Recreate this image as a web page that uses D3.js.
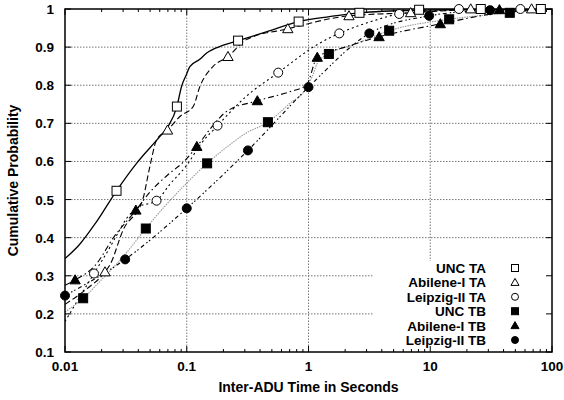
<!DOCTYPE html>
<html>
<head>
<meta charset="utf-8">
<script src="https://cdn.jsdelivr.net/npm/d3@7"></script>
<style>
  body { margin: 0; background: #fff; }
  text { font-family: 'Liberation Sans', Arial, sans-serif; font-weight: bold; fill: #000; }
</style>
</head>
<body>
<svg id="cdf" width="564" height="400"></svg>
<script>
// curves: [seconds, cumulative probability]
const uncTA = [[0.01, 0.345], [0.013, 0.38], [0.018, 0.44], [0.0265, 0.523], [0.0387, 0.595], [0.06, 0.665],
  [0.07, 0.691], [0.083, 0.744], [0.0905, 0.796], [0.099, 0.827], [0.106, 0.849], [0.128, 0.868], [0.145, 0.884],
  [0.2, 0.905], [0.264, 0.917], [0.45, 0.94], [0.83, 0.967], [1.49, 0.98], [2.62, 0.99], [8.1, 0.997], [26, 0.999], [100, 1]]
const abileneTA = [[0.01, 0.225], [0.015, 0.265], [0.0213, 0.31], [0.0235, 0.33], [0.03, 0.42], [0.0435, 0.5],
  [0.0498, 0.587], [0.0565, 0.656], [0.0695, 0.682], [0.0878, 0.718], [0.113, 0.744], [0.128, 0.796], [0.164, 0.849],
  [0.218, 0.875], [0.306, 0.919], [0.676, 0.948], [2.15, 0.982], [6.9, 0.99], [21.5, 0.998], [100, 1]]
const leipzigTA = [[0.01, 0.18], [0.0173, 0.306], [0.022, 0.36], [0.027, 0.41], [0.032, 0.45], [0.04, 0.48],
  [0.0565, 0.497], [0.0726, 0.54], [0.1, 0.59], [0.13, 0.645], [0.179, 0.694], [0.306, 0.77], [0.564, 0.833],
  [1.23, 0.91], [1.79, 0.936], [3.5, 0.97], [5.56, 0.987], [17.2, 0.998], [100, 1]]
const uncTB = [[0.01, 0.205], [0.0141, 0.241], [0.02, 0.29], [0.03, 0.35], [0.0461, 0.424], [0.065, 0.48],
  [0.088, 0.525], [0.147, 0.595], [0.224, 0.643], [0.306, 0.674], [0.464, 0.703], [0.7, 0.752], [0.95, 0.79],
  [1.07, 0.822], [1.2, 0.862], [1.47, 0.882], [2.5, 0.91], [4.6, 0.943], [14.3, 0.973], [45, 0.99], [100, 1]]
const abileneTB = [[0.01, 0.275], [0.0121, 0.289], [0.018, 0.33], [0.025, 0.4], [0.0382, 0.472], [0.05, 0.52],
  [0.07, 0.565], [0.095, 0.6], [0.121, 0.639], [0.16, 0.69], [0.21, 0.73], [0.38, 0.759], [0.7, 0.783],
  [0.96, 0.8], [1.18, 0.873], [2, 0.9], [3.8, 0.927], [12.1, 0.961], [37, 0.99], [100, 1]]
const leipzigTB = [[0.01, 0.248], [0.0312, 0.343], [0.1, 0.477], [0.318, 0.629], [1.0, 0.795], [3.16, 0.936],
  [9.8, 0.982], [31, 0.997], [100, 1]]

// where the symbols sit on each curve
const uncTAMarks = [[0.0265, 0.523], [0.083, 0.744], [0.264, 0.917], [0.83, 0.967], [2.62, 0.99], [8.1, 0.998], [26, 1], [81, 1]]
const abileneTAMarks = [[0.0213, 0.31], [0.0695, 0.682], [0.218, 0.875], [0.676, 0.948], [2.15, 0.982], [6.9, 0.99], [21.5, 1], [68, 1]]
const leipzigTAMarks = [[0.0173, 0.306], [0.0565, 0.497], [0.179, 0.694], [0.564, 0.833], [1.79, 0.936], [5.56, 0.987], [17.2, 1], [55, 1]]
const uncTBMarks = [[0.0141, 0.241], [0.0461, 0.424], [0.147, 0.595], [0.464, 0.703], [1.47, 0.882], [4.6, 0.943], [14.3, 0.973], [45, 0.99]]
const abileneTBMarks = [[0.0121, 0.289], [0.0382, 0.472], [0.121, 0.639], [0.38, 0.759], [1.18, 0.873], [3.8, 0.927], [12.1, 0.961], [37, 0.998]]
const leipzigTBMarks = [[0.01, 0.248], [0.0312, 0.343], [0.1, 0.477], [0.318, 0.629], [1.0, 0.795], [3.16, 0.936], [9.8, 0.982], [31, 0.997]]

const seriesNames = ['UNC TA', 'Abilene-I TA', 'Leipzig-II TA', 'UNC TB', 'Abilene-I TB', 'Leipzig-II TB']
const xTicks = [0.01, 0.1, 1, 10, 100]
const xTickLabels = ['0.01', '0.1', '1', '10', '100']
const yTicks = [0.1, 0.2, 0.3, 0.4, 0.5, 0.6, 0.7, 0.8, 0.9, 1]
const yTickLabels = ['0.1', '0.2', '0.3', '0.4', '0.5', '0.6', '0.7', '0.8', '0.9', '1']

window.addEventListener('load', makeChart)
function makeChart() {
  const svg = d3.select('#cdf')
  const L = 65, R = 552, T = 9, B = 352

  const scX = d3.scaleLog().domain([0.01, 100]).range([L, R])
  const scY = d3.scaleLinear().domain([0.1, 1]).range([B, T])

  const series = [
    { name: seriesNames[0], data: uncTA, marks: uncTAMarks, sym: 'square', fill: false, stroke: '#000', dash: null },
    { name: seriesNames[1], data: abileneTA, marks: abileneTAMarks, sym: 'triangle', fill: false, stroke: '#000', dash: '6,3' },
    { name: seriesNames[2], data: leipzigTA, marks: leipzigTAMarks, sym: 'circle', fill: false, stroke: '#000', dash: '2,3' },
    { name: seriesNames[3], data: uncTB, marks: uncTBMarks, sym: 'square', fill: true, stroke: '#999', dash: '1.5,1' },
    { name: seriesNames[4], data: abileneTB, marks: abileneTBMarks, sym: 'triangle', fill: true, stroke: '#000', dash: '6,3,1.5,3' },
    { name: seriesNames[5], data: leipzigTB, marks: leipzigTBMarks, sym: 'circle', fill: true, stroke: '#000', dash: '4,3,1.5,2,1.5,3' },
  ]

  // grid
  const grid = svg.append('g').attr('stroke', '#777').attr('stroke-width', 1).attr('stroke-dasharray', '1.5,1.5')
  grid.selectAll('.gx').data(xTicks.slice(1, -1)).enter().append('line')
    .attr('x1', (d) => scX(d)).attr('x2', (d) => scX(d)).attr('y1', B).attr('y2', T)
  grid.selectAll('.gy').data(yTicks.slice(1, -1)).enter().append('line')
    .attr('x1', L).attr('x2', R).attr('y1', (d) => scY(d)).attr('y2', (d) => scY(d))

  // legend box hides the grid behind it
  svg.append('rect').attr('x', 373).attr('y', 261).attr('width', R - 373).attr('height', B - 261).attr('fill', '#fff')

  // ticks, bottom/top and left/right
  const minor = []
  for (let e = -2; e < 2; e++) for (let k = 2; k < 10; k++) minor.push(k * Math.pow(10, e))
  const ticks = svg.append('g').attr('stroke', '#000').attr('stroke-width', 1)
  ;[[B, -1], [T, 1]].forEach(([y0, s]) => {
    xTicks.forEach((d) => ticks.append('line').attr('x1', scX(d)).attr('x2', scX(d)).attr('y1', y0).attr('y2', y0 + s * 6))
    minor.forEach((d) => ticks.append('line').attr('x1', scX(d)).attr('x2', scX(d)).attr('y1', y0).attr('y2', y0 + s * 3))
  })
  ;[[L, 1], [R, -1]].forEach(([x0, s]) => {
    yTicks.forEach((d) => ticks.append('line').attr('x1', x0).attr('x2', x0 + s * 6).attr('y1', scY(d)).attr('y2', scY(d)))
  })

  svg.selectAll('.xl').data(xTicks).enter().append('text')
    .attr('x', (d) => scX(d)).attr('y', 371).attr('text-anchor', 'middle').attr('font-size', 13.5)
    .text((d, i) => xTickLabels[i])
  svg.selectAll('.yl').data(yTicks).enter().append('text')
    .attr('x', 54).attr('y', (d) => scY(d) + 5).attr('text-anchor', 'end').attr('font-size', 13.5)
    .text((d, i) => yTickLabels[i])

  svg.append('text').attr('x', (L + R) / 2).attr('y', 392).attr('text-anchor', 'middle').attr('font-size', 14)
    .text('Inter-ADU Time in Seconds')
  svg.append('text').attr('transform', 'translate(18,' + (T + B) / 2 + ') rotate(-90)')
    .attr('text-anchor', 'middle').attr('font-size', 14).text('Cumulative Probability')

  // curves
  svg.append('clipPath').attr('id', 'plotclip').append('rect')
    .attr('x', L).attr('y', T).attr('width', R - L).attr('height', B - T)
  const line = d3.line().x((d) => scX(d[0])).y((d) => scY(d[1])).curve(d3.curveMonotoneX)
  svg.append('g').attr('clip-path', 'url(#plotclip)')
    .selectAll('path').data(series).enter().append('path')
    .attr('d', (d) => line(d.data))
    .attr('fill', 'none')
    .attr('stroke', (d) => d.stroke)
    .attr('stroke-width', (d) => (d.dash ? 1.1 : 1.3))
    .attr('stroke-dasharray', (d) => d.dash)

  // frame
  svg.append('rect').attr('x', L).attr('y', T).attr('width', R - L).attr('height', B - T)
    .attr('fill', 'none').attr('stroke', '#000').attr('stroke-width', 1.5)

  // symbols
  series.forEach((s) => {
    s.marks.forEach((m) => drawSymbol(svg, s, scX(m[0]), scY(m[1]), 9))
  })

  // legend
  series.forEach((s, i) => {
    const yy = 268 + i * 14.4
    svg.append('text').attr('x', 486).attr('y', yy + 5).attr('text-anchor', 'end').attr('font-size', 13.5).text(s.name)
    drawSymbol(svg, s, 515, yy, 7)
  })
}

function drawSymbol(svg, s, cx, cy, size) {
  const h = size / 2
  const fill = s.fill ? '#000' : '#fff'
  if (s.sym === 'square') {
    svg.append('rect').attr('x', cx - h).attr('y', cy - h).attr('width', size).attr('height', size)
      .attr('fill', fill).attr('stroke', '#000').attr('stroke-width', 1)
  } else if (s.sym === 'circle') {
    svg.append('circle').attr('cx', cx).attr('cy', cy).attr('r', h)
      .attr('fill', fill).attr('stroke', '#000').attr('stroke-width', 1)
  } else {
    const t = h * 1.15
    svg.append('path')
      .attr('d', 'M' + cx + ',' + (cy - t) + 'L' + (cx + t) + ',' + (cy + t * 0.75) + 'L' + (cx - t) + ',' + (cy + t * 0.75) + 'Z')
      .attr('fill', fill).attr('stroke', '#000').attr('stroke-width', 1)
  }
}
</script>
</body>
</html>
